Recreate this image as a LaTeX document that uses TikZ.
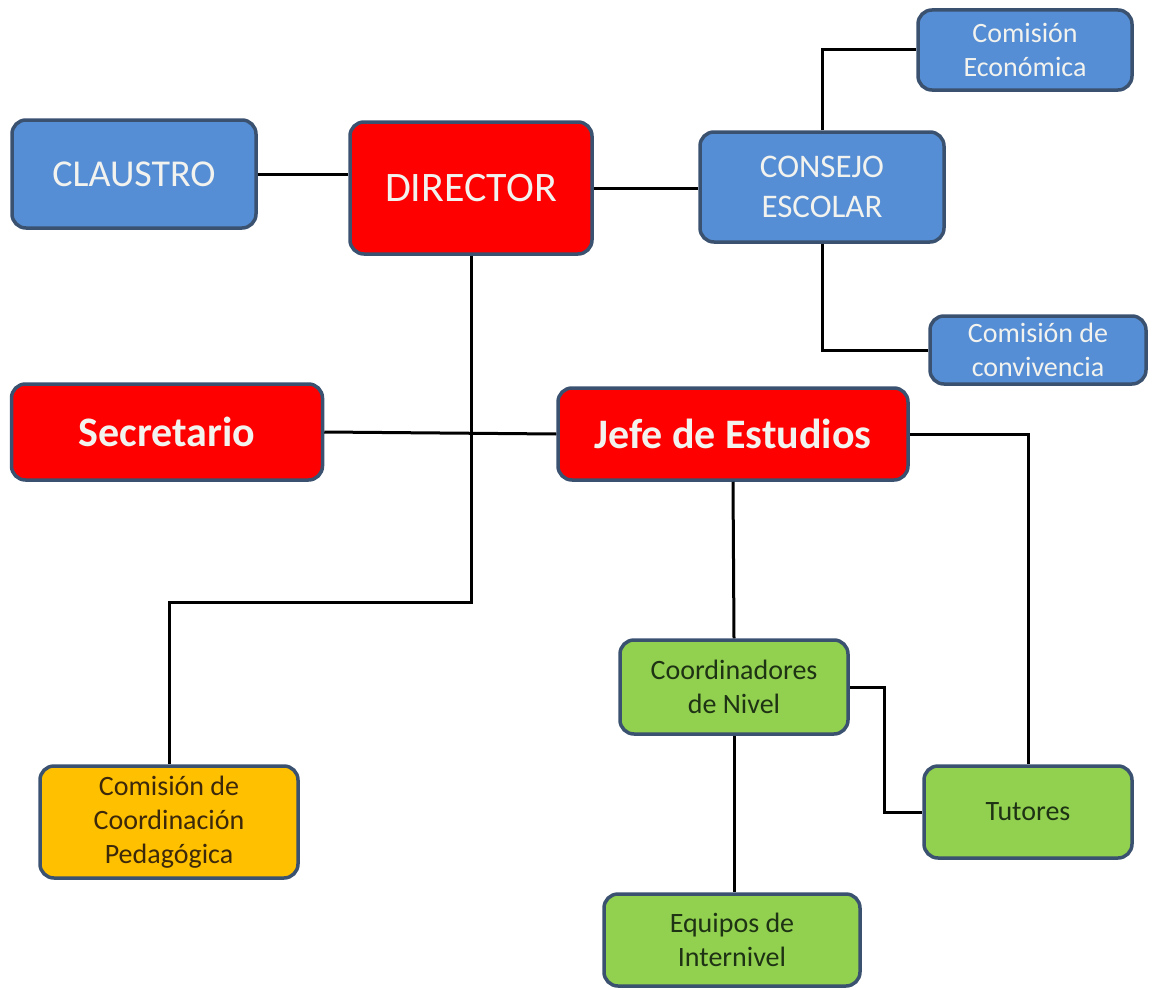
\documentclass[tikz,border=0pt]{standalone}
\usepackage{fontspec}
\setmainfont{Carlito}
\definecolor{bluefill}{RGB}{85,142,213}
\definecolor{redfill}{RGB}{255,0,0}
\definecolor{greenfill}{RGB}{146,208,80}
\definecolor{orangefill}{RGB}{255,192,0}
\definecolor{edge}{RGB}{58,82,112}
\definecolor{lighttext}{RGB}{242,242,238}
\definecolor{greentext}{RGB}{30,50,20}
\definecolor{orangetext}{RGB}{60,40,10}
\tikzset{
  box/.style={draw=edge, line width=3.5pt, rounded corners=14pt, align=center, inner sep=0pt},
  smalltext/.style={font=\fontsize{28}{34}\selectfont},
  bluebox/.style={box, fill=bluefill, text=lighttext},
  redbox/.style={box, fill=redfill, text=lighttext},
  greenbox/.style={box, fill=greenfill, text=greentext, smalltext},
  orangebox/.style={box, fill=orangefill, text=orangetext, smalltext},
  conn/.style={draw=black, line width=3pt},
}
\begin{document}
\begin{tikzpicture}[x=1pt,y=1pt]
\useasboundingbox (0,0) rectangle (1154,-990);
% nodes
\node[bluebox, minimum width=244pt, minimum height=108pt, font=\fontsize{38}{44}\selectfont] (claustro) at (134,-174) {CLAUSTRO};
\node[redbox, minimum width=242pt, minimum height=132pt, font=\fontsize{42}{48}\selectfont] (dir) at (471,-188) {DIRECTOR};
\node[bluebox, minimum width=244pt, minimum height=110pt, font=\fontsize{33}{40}\selectfont] (cons) at (822,-187) {CONSEJO\\ESCOLAR};
\node[bluebox, minimum width=214pt, minimum height=80pt, smalltext] (econ) at (1025,-50) {Comisión\\Económica};
\node[bluebox, minimum width=216pt, minimum height=68pt, smalltext] (conv) at (1038,-350) {Comisión de\\convivencia};
\node[redbox, minimum width=311pt, minimum height=96pt, font=\bfseries\fontsize{42}{48}\selectfont] (sec) at (167,-432) {Secretario};
\node[redbox, minimum width=350pt, minimum height=92pt, font=\bfseries\fontsize{42}{48}\selectfont] (jefe) at (733,-434) {Jefe de Estudios};
\node[greenbox, minimum width=228pt, minimum height=94pt] (coord) at (734,-687) {Coordinadores\\de Nivel};
\node[greenbox, minimum width=208pt, minimum height=92pt] (tut) at (1028,-812) {Tutores};
\node[orangebox, minimum width=258pt, minimum height=112pt] (ccp) at (169,-822) {Comisión de\\Coordinación\\Pedagógica};
\node[greenbox, minimum width=256pt, minimum height=92pt] (equip) at (732,-940) {Equipos de\\Internivel};
% connectors
\coordinate (dirbend) at (471,-602);
\coordinate (coordbend) at (884,-687);
\draw[conn] (claustro.east) -- (claustro.east -| dir.west);
\draw[conn] (dir.east) -- (dir.east -| cons.west);
\draw[conn] (cons.north) |- (econ.west);
\draw[conn] (cons.south) |- (conv.west);
\draw[conn] (dir.south) -- (dirbend) -| (ccp.north);
\draw[conn] (sec.east) -- (jefe.west);
\draw[conn] (jefe.east) -| (tut.north);
\draw[conn] (jefe.south) -- (coord.north);
\draw[conn] (coord.east) -- (coordbend) |- (tut.west);
\draw[conn] (coord.south) -- (coord.south |- equip.north);
\end{tikzpicture}
\end{document}
